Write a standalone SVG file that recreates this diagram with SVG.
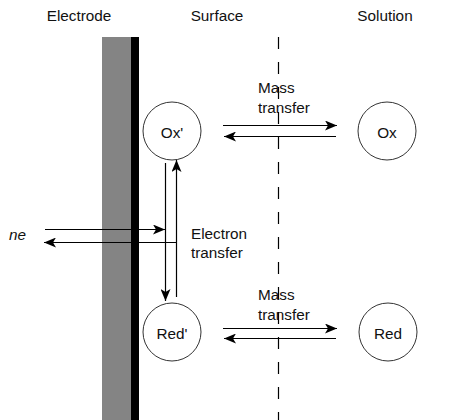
<svg xmlns="http://www.w3.org/2000/svg" width="456" height="420" viewBox="0 0 456 420">
<defs>
<marker id="ah" viewBox="0 0 12 10" refX="12" refY="5" markerWidth="12" markerHeight="10" markerUnits="userSpaceOnUse" orient="auto">
<path d="M0,0 L12,5 L0,10 L3,5 z" fill="#000"/>
</marker>
<style>
text{font-family:"Liberation Sans",Arial,sans-serif;font-size:15.3px;fill:#111}
.c{fill:#fff;stroke:#333;stroke-width:1}
.a{stroke:#000;stroke-width:1.2;fill:none;marker-end:url(#ah)}
</style>
</defs>
<rect width="456" height="420" fill="#fff"/>
<g id="headers">
<text x="79" y="21" text-anchor="middle">Electrode</text>
<text x="217" y="21" text-anchor="middle">Surface</text>
<text x="385" y="21" text-anchor="middle">Solution</text>
</g>
<g id="electrode">
<rect x="102" y="37" width="30" height="383" fill="#848484"/>
<rect x="131" y="37" width="8" height="383" fill="#000"/>
</g>
<line id="boundary" x1="278.5" y1="37" x2="278.5" y2="420" stroke="#000" stroke-width="1.2" stroke-dasharray="12 13"/>
<g id="ox-surface"><circle class="c" cx="172" cy="131" r="29"/><text x="172" y="138" text-anchor="middle">Ox'</text></g>
<g id="ox-solution"><circle class="c" cx="387" cy="131" r="29"/><text x="387" y="138" text-anchor="middle">Ox</text></g>
<g id="red-surface"><circle class="c" cx="172" cy="332" r="29"/><text x="172" y="339" text-anchor="middle">Red'</text></g>
<g id="red-solution"><circle class="c" cx="388" cy="332" r="29"/><text x="388" y="339" text-anchor="middle">Red</text></g>
<g id="connectors">
<line class="a" x1="223" y1="125.5" x2="337" y2="125.5"/>
<line class="a" x1="336" y1="136.5" x2="224" y2="136.5"/>
<line class="a" x1="223" y1="328.5" x2="337" y2="328.5"/>
<line class="a" x1="336" y1="338.5" x2="224" y2="338.5"/>
<line class="a" x1="165.5" y1="163" x2="165.5" y2="301"/>
<line class="a" x1="176.5" y1="297" x2="176.5" y2="160"/>
<line class="a" x1="45" y1="229.5" x2="165" y2="229.5"/>
<line class="a" x1="176.5" y1="242.5" x2="44" y2="242.5"/>
</g>
<g id="labels">
<text x="258" y="93">Mass</text>
<text x="258" y="113">transfer</text>
<text x="258" y="300">Mass</text>
<text x="258" y="320">transfer</text>
<text x="191" y="239">Electron</text>
<text x="191" y="258">transfer</text>
<text x="9" y="240" font-style="italic">ne</text>
</g>
</svg>
